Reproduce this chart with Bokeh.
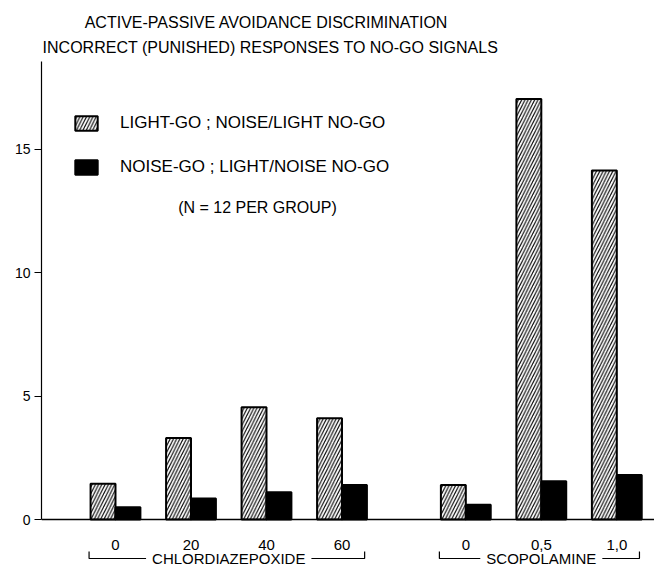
from bokeh.plotting import figure
from bokeh.models import Range1d, Span, Legend, LegendItem, Label, FixedTicker
from bokeh.core.properties import value
from bokeh.embed import file_html
from bokeh.resources import INLINE

# ---- data ----
groups = ["CHLORDIAZEPOXIDE", "CHLORDIAZEPOXIDE", "CHLORDIAZEPOXIDE", "CHLORDIAZEPOXIDE",
          "SCOPOLAMINE", "SCOPOLAMINE", "SCOPOLAMINE"]
doses = ["0", "20", "40", "60", "0", "0,5", "1,0"]
light_go = [1.45, 3.3, 4.55, 4.1, 1.4, 17.05, 14.15]   # hatched
noise_go = [0.5, 0.85, 1.1, 1.4, 0.6, 1.55, 1.8]       # solid black
y_ticks = [0, 5, 10, 15]
title_lines = ["ACTIVE-PASSIVE AVOIDANCE DISCRIMINATION",
               "INCORRECT (PUNISHED) RESPONSES TO NO-GO SIGNALS"]
legend_labels = ["LIGHT-GO ; NOISE/LIGHT NO-GO", "NOISE-GO ; LIGHT/NOISE NO-GO"]
note = "(N = 12 PER GROUP)"

# ---- layout helpers (pixel -> data for annotations) ----
FONT = "Liberation Sans"
W, H = 654, 569
LEFT = 41
SX = 75.5        # px per x unit
SY = 24.67       # px per y unit
X0 = -0.98       # x at frame left
Y0PX = 519       # image y of zero

def dx(px):
    return X0 + (px - LEFT) / SX

def dy(py):
    return (Y0PX - py) / SY

# positions: groups separated by an extra gap
GROUP_GAP = 0.64
pos = []
g_index = -1
prev = None
for i, g in enumerate(groups):
    if g != prev:
        g_index += 1
        prev = g
    pos.append(i + g_index * GROUP_GAP)

BW = 0.33
x_h = [p_ - BW / 2 for p_ in pos]
x_b = [p_ + BW / 2 for p_ in pos]

p = figure(width=W, height=H, output_backend="svg", toolbar_location=None,
           x_range=Range1d(X0, X0 + (W - LEFT) / SX),
           y_range=Range1d(dy(H), dy(0)),
           x_axis_location=None, min_border_left=LEFT, min_border_right=0,
           min_border_top=0, min_border_bottom=0)
p.outline_line_color = None
p.xgrid.visible = False
p.ygrid.visible = False

r_h = p.vbar(x=x_h, top=light_go, bottom=0, width=BW, fill_color="white",
             hatch_pattern="/", hatch_color="black", hatch_scale=6.5, hatch_weight=1.1,
             line_color="black", line_width=2)
r_b = p.vbar(x=x_b, top=noise_go, bottom=0, width=BW, fill_color="black",
             line_color="black", line_width=2)

p.add_layout(Span(location=0, dimension="width", line_color="black", line_width=1.3))

# y axis
ax = p.yaxis[0]
ax.ticker = FixedTicker(ticks=y_ticks)
ax.bounds = (0, dy(61))
ax.axis_line_color = "black"
ax.axis_line_width = 1.2
ax.major_tick_in = 0
ax.major_tick_out = 7
ax.major_tick_line_width = 1.2
ax.minor_tick_line_color = None
ax.major_label_standoff = 4
ax.major_label_text_font = FONT
ax.major_label_text_font_size = "14px"
ax.major_label_text_color = "black"

# dose labels (drawn on top of everything)
r_d = p.text(x=pos, y=[0] * len(pos), text=doses, y_offset=25, text_align="center",
             text_baseline="middle", text_font=value(FONT), text_font_size="15px",
             text_color="black")
r_d.level = "overlay"

# group labels and brackets
uniq = []
for g in groups:
    if g not in uniq:
        uniq.append(g)
BR_Y = dy(558)
BR_TOP = dy(551)
for g in uniq:
    gp = [pos[k] for k in range(len(groups)) if groups[k] == g]
    l, r = min(gp) - 0.35, max(gp) + 0.3
    p.line(x=[l, l, r, r], y=[BR_TOP, BR_Y, BR_Y, BR_TOP], line_color="black", line_width=1.2)
    p.add_layout(Label(x=(min(gp) + max(gp)) / 2, y=dy(558), text=g, text_align="center",
                       text_baseline="middle", text_font=FONT, text_font_size="15px",
                       text_color="black", background_fill_color="white",
                       padding=dict(left=6, right=6, top=0, bottom=0)))

# title
p.text(x=[dx(266), dx(270)], y=[dy(22), dy(47)], text=title_lines, text_align="center",
       text_baseline="middle", text_font=value(FONT), text_font_size="16px",
       text_color="black")

# note
p.text(x=[dx(257)], y=[dy(207)], text=[note], text_align="center", text_baseline="middle",
       text_font=value(FONT), text_font_size="16px", text_color="black")

legend = Legend(items=[LegendItem(label=legend_labels[0], renderers=[r_h]),
                       LegendItem(label=legend_labels[1], renderers=[r_b])],
                location=(31, 569 - 177), glyph_width=28, glyph_height=18, label_height=18,
                spacing=24, label_standoff=20, padding=0, margin=0,
                border_line_color=None, background_fill_alpha=0,
                label_text_font=FONT, label_text_font_size="17px",
                label_text_color="black")
p.add_layout(legend)

open("out.html", "w").write(file_html(p, INLINE))
